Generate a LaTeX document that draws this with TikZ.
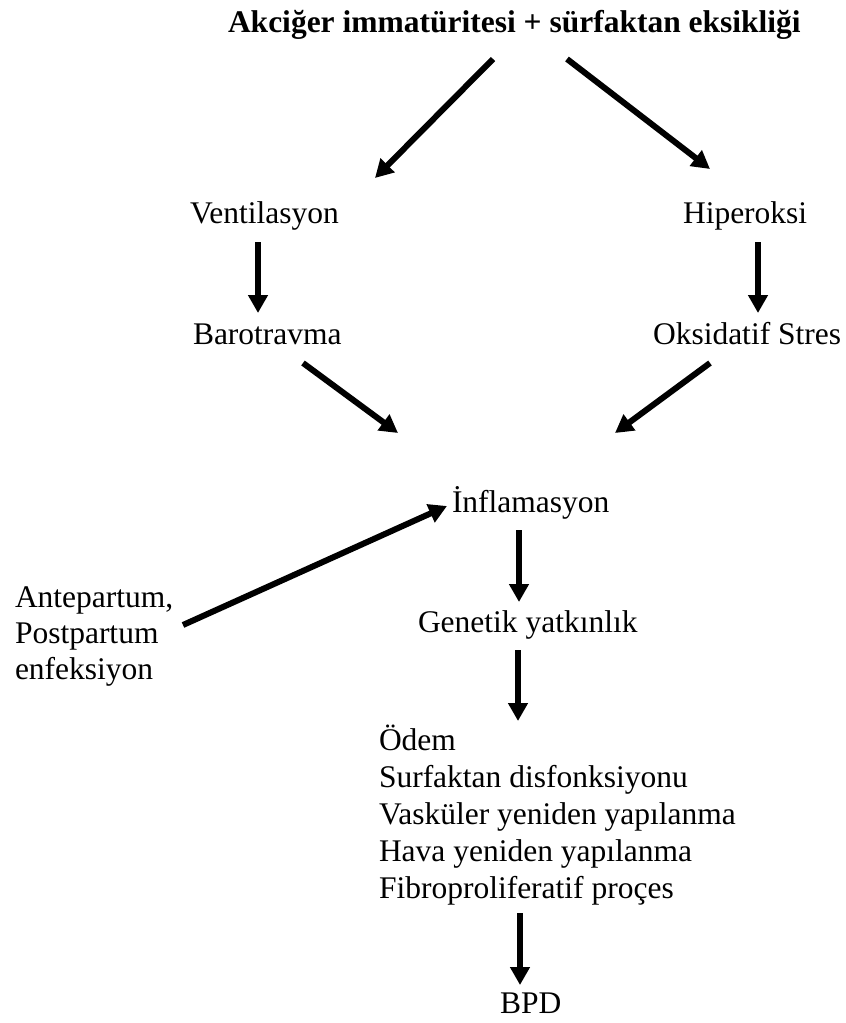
\documentclass[tikz,border=0pt]{standalone}
\usepackage{fontspec}
\setmainfont{Liberation Serif}
\usetikzlibrary{arrows.meta}
\begin{document}
\begin{tikzpicture}[x=1pt,y=-1pt,
  txt/.style={inner sep=0pt,outer sep=0pt,anchor=base west,font=\fontsize{31.5}{37}\selectfont},
  ttl/.style={txt,font=\fontsize{31.5}{37}\selectfont\bfseries},
  arr/.style={line width=6pt,-{Triangle[length=18pt,width=19pt]}}]
\fill[white] (0,0) rectangle (846,1023);
\useasboundingbox (0,0) rectangle (846,1023);
% texts
\node[ttl] (title) at (228,32) {Akciğer immatüritesi + sürfaktan eksikliği};
\node[txt] (vent) at (190,223) {Ventilasyon};
\node[txt] (hip) at (683,223) {Hiperoksi};
\node[txt] (baro) at (193,344) {Barotravma};
\node[txt] (oks) at (653,344) {Oksidatif Stres};
\node[txt] (inf) at (452,512) {İnflamasyon};
\node[txt] (ante1) at (15,607) {Antepartum,};
\node[txt] (ante2) at (15,643) {Postpartum};
\node[txt] (ante3) at (15,679) {enfeksiyon};
\node[txt] (gen) at (418,632) {Genetik yatkınlık};
\node[txt] (l1) at (379,750) {Ödem};
\node[txt] (l2) at (379,787) {Surfaktan disfonksiyonu};
\node[txt] (l3) at (379,824) {Vasküler yeniden yapılanma};
\node[txt] (l4) at (379,861) {Hava yeniden yapılanma};
\node[txt] (l5) at (379,898) {Fibroproliferatif proçes};
\node[txt] (bpd) at (500,1013) {BPD};
% arrow ends
\coordinate (t1) at (493,59);   \coordinate (h1) at (375,178);
\coordinate (t2) at (567,59);   \coordinate (h2) at (710,169);
\coordinate (t3) at (258,242);  \coordinate (h3) at (258,313);
\coordinate (t4) at (758,242);  \coordinate (h4) at (758,313);
\coordinate (t5) at (303,363);  \coordinate (h5) at (398,433);
\coordinate (t6) at (710,363);  \coordinate (h6) at (615,433);
\coordinate (t7) at (183,625);  \coordinate (h7) at (447,506);
\coordinate (t8) at (519,530);  \coordinate (h8) at (519,602);
\coordinate (t9) at (518,650);  \coordinate (h9) at (518,721);
\coordinate (t10) at (520,913); \coordinate (h10) at (520,985);
\foreach \i in {1,...,10} {\draw[arr] (t\i) -- (h\i);}
\end{tikzpicture}
\end{document}
